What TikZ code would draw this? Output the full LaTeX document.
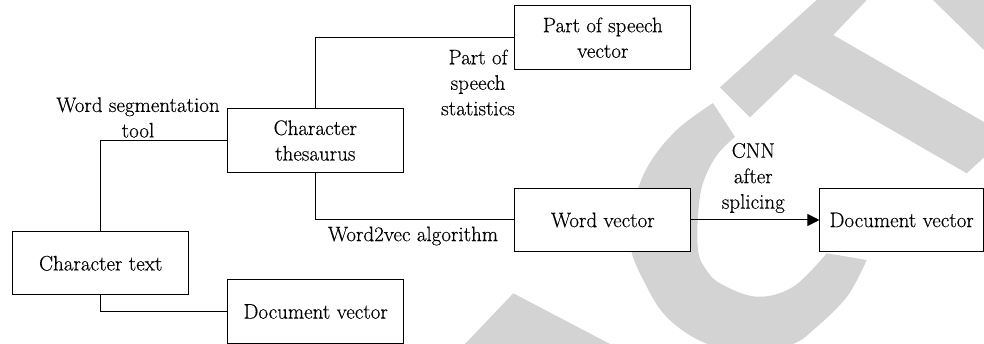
\documentclass[tikz,border=0pt]{standalone}
\usepackage{fontspec}
\newfontfamily\labelface{Latin Modern Roman}[FakeBold=0.35]
\usetikzlibrary{arrows.meta}
\definecolor{wmgray}{RGB}{211,211,211}
\begin{document}
\begin{tikzpicture}[x=1pt,y=-1pt,
  txt/.style={font=\labelface\fontsize{21}{25.5}\selectfont},
  box/.style={txt, draw=black, line width=1pt, fill=white,
    minimum width=176pt, minimum height=63.4pt, inner sep=0pt, align=center},
  lbl/.style={txt, align=center, inner sep=0pt},
  link/.style={line width=1pt},
  wm/.style={fill=wmgray}]
\useasboundingbox (0,0) rectangle (984,344);

% background watermark strokes
\fill[wm] (720,87.3) -- (816.7,0) -- (866.7,0) -- (833.3,35) -- (984,122)
  -- (984,157.4) -- (966.7,173.3) -- (795,74) -- (750,117.3) -- cycle;
\fill[wm] (933,0) -- (984,0) -- (984,50) -- cycle;
\fill[wm] (465,344) -- (513.3,293.3) -- (610,344) -- cycle;
\fill[wm] plot[smooth, tension=0.6] coordinates {(713,103) (680,127) (655,155)
  (640,183) (632,215) (631,250) (646.7,286.7) (663.3,313.3) (686.7,333.3)
  (713,346) (752,356) (793,344) (813.3,330) (846.7,297) (866.7,260)}
  -- plot[smooth, tension=0.6] coordinates {(826.7,253.3) (793.3,286.7)
  (756.7,296.7) (720,283.3) (705,268) (698,250) (698,215) (703,183)
  (717,155) (735,137)} -- cycle;

% boxes
\node[box] (ctext) at (100.7,263.3) {Character text};
\node[box] (thes)  at (315.3,140.5) {Character\\thesaurus};
\node[box] (doc1)  at (315.7,311.5) {Document vector};
\node[box] (pos)   at (602.8,37.7)  {Part of speech\\vector};
\node[box] (wvec)  at (602.8,220)   {Word vector};
\node[box, minimum width=163.5pt] (doc2) at (901.7,220) {Document vector};

% connectors
\draw[link] (ctext.north) |- (thes.west);
\draw[link] (ctext.south) |- (doc1.west);
\draw[link] (thes.north) |- (pos.west);
\draw[link] (thes.south) |- (wvec.west);
\draw[link, -{Triangle[length=12pt,width=12pt]}] (wvec.east) -- (doc2.west);

% connector labels
\node[lbl] (lseg)  at (138,117.5) {Word segmentation\\tool};
\node[lbl] (lpos)  at (478,82.5)  {Part of\\speech\\statistics};
\node[lbl] (lw2v)  at (413,236)   {Word2vec algorithm};
\node[lbl] (lcnn)  at (753.3,178) {CNN\\after\\splicing};
\end{tikzpicture}
\end{document}
